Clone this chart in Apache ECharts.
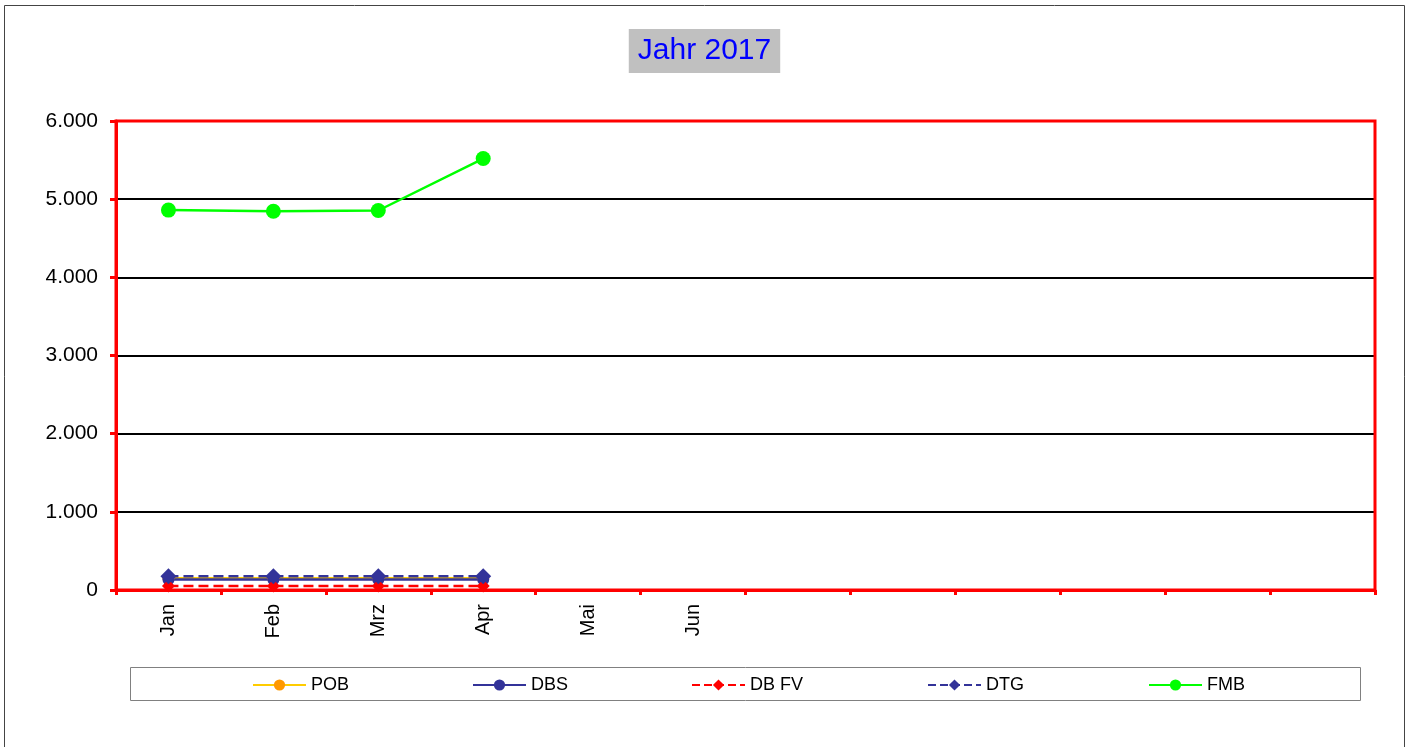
<!DOCTYPE html>
<html>
<head>
<meta charset="utf-8">
<title>Jahr 2017</title>
<script src="https://cdn.jsdelivr.net/npm/echarts@6/dist/echarts.min.js"></script>
<style>
  html, body { margin: 0; padding: 0; background: #fff; }
  #chart { width: 1409px; height: 747px; }
</style>
</head>
<body>
<div id="chart"></div>
<script>
// Monate (12 Plätze, nur Jan-Jun beschriftet)
var months = ['Jan', 'Feb', 'Mrz', 'Apr', 'Mai', 'Jun', '', ' ', '  ', '   ', '    ', '     '];
var yTicks = [0, 1000, 2000, 3000, 4000, 5000, 6000];

var pob = [150, 150, 150, 150];
var dbs = [135, 135, 135, 135];
var dbFv = [50, 50, 50, 50];
var dtg = [175, 175, 175, 175];
var fmb = [4860, 4845, 4855, 5520];

var chart = echarts.init(document.getElementById('chart'));

function fmt(v) {
    if (v === 0) return '0';
    return (v / 1000).toFixed(3);
}

// eine Legende pro Eintrag, damit die Abstände wie im Original sind
var legendPos = [
    {name: 'POB', left: 252},
    {name: 'DBS', left: 472},
    {name: 'DB FV', left: 691},
    {name: 'DTG', left: 927},
    {name: 'FMB', left: 1148}
];
var legends = legendPos.map(function (l) {
    return {
        data: [l.name],
        left: l.left,
        top: 676,
        padding: 0,
        itemWidth: 53,
        itemHeight: 14,
        itemGap: 6,
        textStyle: {fontFamily: 'Liberation Sans', fontSize: 18, color: '#000'}
    };
});

// Plotbereich
var gl = 116, gt = 121, gr = 34, gb = 157;

var option = {
    animation: false,
    title: {
        text: 'Jahr 2017',
        left: 'center',
        top: 29,
        backgroundColor: '#c0c0c0',
        padding: [7, 9, 7, 9],
        textStyle: {fontFamily: 'Liberation Sans', fontSize: 30, fontWeight: 'normal', color: '#0000ff'}
    },
    legend: legends,
    grid: {left: gl, right: gr, top: gt, bottom: gb},
    graphic: [
        {type: 'polyline', shape: {points: [[4.5, 747], [4.5, 5.5], [1404.5, 5.5], [1404.5, 747]]},
         style: {fill: null, stroke: '#444', lineWidth: 1}, silent: true},
        {type: 'rect', shape: {x: 130.5, y: 667.5, width: 1230, height: 33},
         style: {fill: null, stroke: '#808080', lineWidth: 1}, silent: true, z: -1},
        {type: 'rect', shape: {x: gl, y: gt, width: 1409 - gl - gr, height: 747 - gt - gb},
         style: {fill: null, stroke: '#ff0000', lineWidth: 3}, silent: true, z: 5}
    ],
    xAxis: {
        type: 'category',
        data: months,
        boundaryGap: true,
        axisLine: {lineStyle: {color: '#ff0000', width: 3}},
        axisTick: {show: true, length: 5, alignWithLabel: false, interval: 0, lineStyle: {color: '#ff0000', width: 3}},
        axisLabel: {rotate: 90, interval: 0, margin: 14, fontFamily: 'Liberation Sans', fontSize: 20, color: '#000'},
        splitLine: {show: false}
    },
    yAxis: {
        type: 'value',
        min: 0,
        max: 6000,
        interval: 1000,
        axisLine: {show: true, lineStyle: {color: '#ff0000', width: 3}},
        axisTick: {show: true, length: 6, lineStyle: {color: '#ff0000', width: 3}},
        axisLabel: {formatter: fmt, margin: 18, fontFamily: 'Liberation Sans', fontSize: 21, color: '#000'},
        splitLine: {show: true, lineStyle: {color: '#000', width: 2}}
    },
    series: [
        {name: 'POB', type: 'line', data: pob, symbol: 'circle', symbolSize: 12,
         itemStyle: {color: '#ff9900'}, lineStyle: {color: '#ffcc00', width: 2.5}},
        {name: 'DBS', type: 'line', data: dbs, symbol: 'circle', symbolSize: 12,
         itemStyle: {color: '#333399'}, lineStyle: {color: '#333399', width: 2.5}},
        {name: 'DB FV', type: 'line', data: dbFv, symbol: 'diamond', symbolSize: 13,
         itemStyle: {color: '#ff0000'}, lineStyle: {color: '#ff0000', width: 2.5, type: 'dashed'}},
        {name: 'DTG', type: 'line', data: dtg, symbol: 'diamond', symbolSize: 16,
         itemStyle: {color: '#333399'}, lineStyle: {color: '#333399', width: 2.5, type: 'dashed'}},
        {name: 'FMB', type: 'line', data: fmb, symbol: 'circle', symbolSize: 15,
         itemStyle: {color: '#00ff00'}, lineStyle: {color: '#00ff00', width: 2.5}}
    ]
};

chart.setOption(option);
</script>
</body>
</html>
